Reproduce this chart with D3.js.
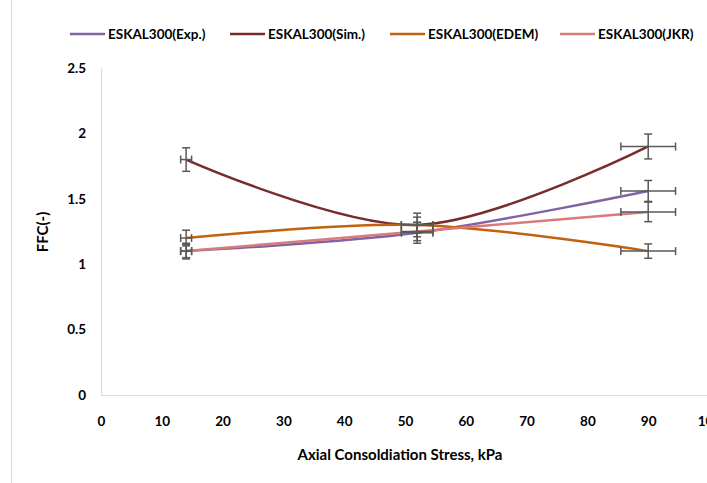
<!DOCTYPE html>
<html>
<head>
<meta charset="utf-8">
<script src="https://cdn.jsdelivr.net/npm/d3@7"></script>
<style>
  body { margin: 0; background: #fff; }
  text { font-family: Lato, "Open Sans", sans-serif; font-weight: bold; fill: #000; }
</style>
</head>
<body>
<div id="chart"></div>
<script>
// datos
const stress = [14, 52, 90];
const seriesNames = ["ESKAL300(Exp.)", "ESKAL300(Sim.)", "ESKAL300(EDEM)", "ESKAL300(JKR)"];
const expValues = [1.1, 1.24, 1.56];
const simValues = [1.8, 1.3, 1.9];
const edemValues = [1.2, 1.3, 1.1];
const jkrValues = [1.1, 1.25, 1.4];
const expErr = [0.05, 0.08, 0.08];
const simErr = [0.09, 0.09, 0.095];
const edemErr = [0.06, 0.06, 0.055];
const jkrErr = [0.06, 0.07, 0.075];
const stressErr = [0.9, 2.6, 4.5];
const xTicks = [0, 10, 20, 30, 40, 50, 60, 70, 80, 90, 100];
const yTicks = [0, 0.5, 1, 1.5, 2, 2.5];
const colors = ["#8064A2", "#772C2A", "#C0620E", "#D97B7B"];

const width = 707, height = 483;

const svg = d3.select("#chart").append("svg")
  .attr("width", width)
  .attr("height", height);

// marco del grafico
svg.append("line")
  .attr("x1", 11.5).attr("x2", 11.5)
  .attr("y1", 0).attr("y2", height)
  .attr("stroke", "#d9d9d9").attr("stroke-width", 1);

const x = d3.scaleLinear().domain([0, 100]).range([101, 709]);
const y = d3.scaleLinear().domain([0, 2.5]).range([395, 68]);

// ejes
const gx = svg.append("g")
  .attr("transform", `translate(0, ${y(0)})`)
  .call(d3.axisBottom(x).tickValues(xTicks).tickSize(0).tickPadding(21));
gx.select(".domain").attr("stroke", "#d9d9d9").attr("stroke-width", 1);
gx.selectAll("text").attr("font-size", 13.5);

const gy = svg.append("g")
  .attr("transform", `translate(${x(0)}, 0)`)
  .call(d3.axisLeft(y).tickValues(yTicks).tickSize(0).tickPadding(15)
    .tickFormat((d) => String(d)));
gy.select(".domain").attr("stroke", "#d9d9d9").attr("stroke-width", 1);
gy.selectAll("text").attr("font-size", 13.5);

svg.append("text")
  .attr("x", 400).attr("y", 460)
  .attr("text-anchor", "middle")
  .attr("font-size", 15)
  .text("Axial Consoldiation Stress, kPa");

svg.append("text")
  .attr("transform", `translate(48, 232) rotate(-90)`)
  .attr("text-anchor", "middle")
  .attr("font-size", 15)
  .text("FFC(-)");

const allValues = [expValues, simValues, edemValues, jkrValues];
const allErr = [expErr, simErr, edemErr, jkrErr];

const line = d3.line()
  .x((d) => x(d.x))
  .y((d) => y(d.y))
  .curve(d3.curveCardinal.tension(0));

const series = seriesNames.map((name, i) => ({
  name: name,
  color: colors[i],
  points: stress.map((s, j) => ({ x: s, y: allValues[i][j], ey: allErr[i][j], ex: stressErr[j] }))
}));

// lineas
series.forEach((s) => {
  svg.append("path")
    .datum(s.points)
    .attr("fill", "none")
    .attr("stroke", s.color)
    .attr("stroke-width", 2.5)
    .attr("d", line);
});

// barras de error
const errG = svg.append("g").attr("stroke", "#595959").attr("stroke-width", 1.5).attr("fill", "none");
series.forEach((s) => {
  s.points.forEach((p) => {
    const cx = x(p.x), cy = y(p.y);
    const y1 = y(p.y + p.ey), y2 = y(p.y - p.ey);
    const x1 = x(p.x - p.ex), x2 = x(p.x + p.ex);
    errG.append("line").attr("x1", cx).attr("x2", cx).attr("y1", y1).attr("y2", y2);
    errG.append("line").attr("x1", cx - 4).attr("x2", cx + 4).attr("y1", y1).attr("y2", y1);
    errG.append("line").attr("x1", cx - 4).attr("x2", cx + 4).attr("y1", y2).attr("y2", y2);
    errG.append("line").attr("x1", x1).attr("x2", x2).attr("y1", cy).attr("y2", cy);
    errG.append("line").attr("x1", x1).attr("x2", x1).attr("y1", cy - 4).attr("y2", cy + 4);
    errG.append("line").attr("x1", x2).attr("x2", x2).attr("y1", cy - 4).attr("y2", cy + 4);
  });
});

// leyenda
const legendX = [70, 230, 390, 560];
series.forEach((s, i) => {
  const g = svg.append("g").attr("transform", `translate(${legendX[i]}, 34)`);
  g.append("line").attr("x1", 0).attr("x2", 35).attr("y1", 0).attr("y2", 0)
    .attr("stroke", s.color).attr("stroke-width", 2.5);
  g.append("text").attr("x", 38).attr("y", 4.5).attr("font-size", 13.5).text(s.name);
});
</script>
</body>
</html>
